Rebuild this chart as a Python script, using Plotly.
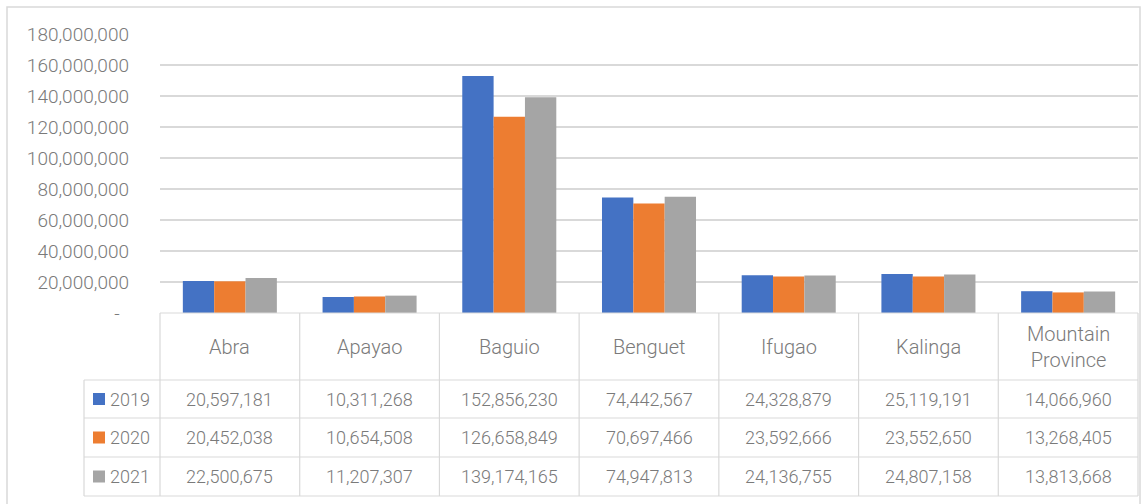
import plotly.graph_objects as go

# ---------------- data ----------------
categories = ["Abra", "Apayao", "Baguio", "Benguet", "Ifugao", "Kalinga", "Mountain Province"]
header_labels = ["Abra", "Apayao", "Baguio", "Benguet", "Ifugao", "Kalinga", "Mountain<br>Province"]
years = ["2019", "2020", "2021"]
v2019 = [20597181, 10311268, 152856230, 74442567, 24328879, 25119191, 14066960]
v2020 = [20452038, 10654508, 126658849, 70697466, 23592666, 23552650, 13268405]
v2021 = [22500675, 11207307, 139174165, 74947813, 24136755, 24807158, 13813668]
series = [v2019, v2020, v2021]
colors = ["#4472C4", "#ED7D31", "#A5A5A5"]
ytick_vals = [0, 20000000, 40000000, 60000000, 80000000, 100000000,
              120000000, 140000000, 160000000, 180000000]
ytick_text = ["-\u00a0\u00a0" if v == 0 else f"{v:,}" for v in ytick_vals]

# ---------------- layout geometry (pixels) ----------------
W, H = 1145, 504
PX_L, PX_R = 160, 1138          # plot area / table data columns
PY_T, PY_B = 34, 313            # plot area top / bottom
LEG_L = 84                      # legend column left edge
ROW_EDGES = [313, 380, 418, 457, 496]

FONT = "Roboto, Liberation Sans Narrow, sans-serif"
TXT = "#7a7a7a"
GRID = "#d9d9d9"


def xp(px):
    return px / W


def yp(py):
    return 1 - py / H


fig = go.Figure()
for yr, vals, col in zip(years, series, colors):
    fig.add_trace(go.Bar(name=yr, x=categories, y=vals, marker_color=col,
                         marker_line_width=0, showlegend=False))

shapes = []
annotations = []

# outer frame (open at the bottom, the picture is cut there)
shapes.append(dict(type="path", xref="paper", yref="paper",
                   path=f"M {xp(7)},{yp(504)} L {xp(7)},{yp(7)} L {xp(1140)},{yp(7)} L {xp(1140)},{yp(504)}",
                   line=dict(color=GRID, width=1.5), layer="below"))

# table grid
ncol = len(categories)
colw = (PX_R - PX_L) / ncol
col_edges = [PX_L + i * colw for i in range(ncol + 1)]
shapes.append(dict(type="line", xref="paper", yref="paper",
                   x0=xp(PX_L), x1=xp(PX_R), y0=yp(ROW_EDGES[0]), y1=yp(ROW_EDGES[0]),
                   line=dict(color=GRID, width=1.2)))
for ry in ROW_EDGES[1:]:
    shapes.append(dict(type="line", xref="paper", yref="paper",
                       x0=xp(LEG_L), x1=xp(PX_R), y0=yp(ry), y1=yp(ry),
                       line=dict(color=GRID, width=1.2)))
shapes.append(dict(type="line", xref="paper", yref="paper",
                   x0=xp(LEG_L), x1=xp(LEG_L), y0=yp(ROW_EDGES[1]), y1=yp(ROW_EDGES[-1]),
                   line=dict(color=GRID, width=1.2)))
for cx in col_edges:
    shapes.append(dict(type="line", xref="paper", yref="paper",
                       x0=xp(cx), x1=xp(cx), y0=yp(ROW_EDGES[0]), y1=yp(ROW_EDGES[-1]),
                       line=dict(color=GRID, width=1.2)))

# header labels
hy = (ROW_EDGES[0] + ROW_EDGES[1]) / 2
for cat, lab in zip(categories, header_labels):
    annotations.append(dict(x=cat, xref="x", y=yp(hy), yref="paper", text=lab,
                            showarrow=False, xanchor="center", yanchor="middle",
                            font=dict(family=FONT, size=20, color=TXT, weight=300)))

# data rows
for r, (yr, vals, col) in enumerate(zip(years, series, colors)):
    cy = (ROW_EDGES[r + 1] + ROW_EDGES[r + 2]) / 2
    for cat, v in zip(categories, vals):
        annotations.append(dict(x=cat, xref="x", y=yp(cy), yref="paper", text=f"{v:,}",
                                showarrow=False, xanchor="center", yanchor="middle",
                                font=dict(family=FONT, size=18, color=TXT, weight=300)))
    shapes.append(dict(type="rect", xref="paper", yref="paper",
                       x0=xp(93), x1=xp(105), y0=yp(cy + 6), y1=yp(cy - 6),
                       fillcolor=col, line=dict(width=0)))
    annotations.append(dict(x=xp(108), xref="paper", y=yp(cy), yref="paper", text=yr,
                            showarrow=False, xanchor="left", yanchor="middle",
                            font=dict(family=FONT, size=18, color=TXT, weight=300)))

fig.update_layout(
    width=W, height=H,
    margin=dict(l=0, r=0, t=0, b=0, pad=0, autoexpand=False),
    paper_bgcolor="white", plot_bgcolor="white",
    barmode="group", bargap=0.327, bargroupgap=0,
    shapes=shapes, annotations=annotations,
    xaxis=dict(domain=[xp(PX_L), xp(PX_R)], showticklabels=False, showgrid=False,
               zeroline=False, showline=False, ticks="", automargin=False),
    yaxis=dict(domain=[yp(PY_B), yp(PY_T)], range=[0, 180000000],
               tickvals=ytick_vals, ticktext=ytick_text, automargin=False,
               showgrid=True, gridcolor=GRID, gridwidth=1.5,
               zeroline=False, showline=False, ticks="", ticklabelstandoff=30,
               tickfont=dict(family=FONT, size=19, color=TXT, weight=300)),
    font=dict(family=FONT, color=TXT),
)

fig.write_html("out.html")
